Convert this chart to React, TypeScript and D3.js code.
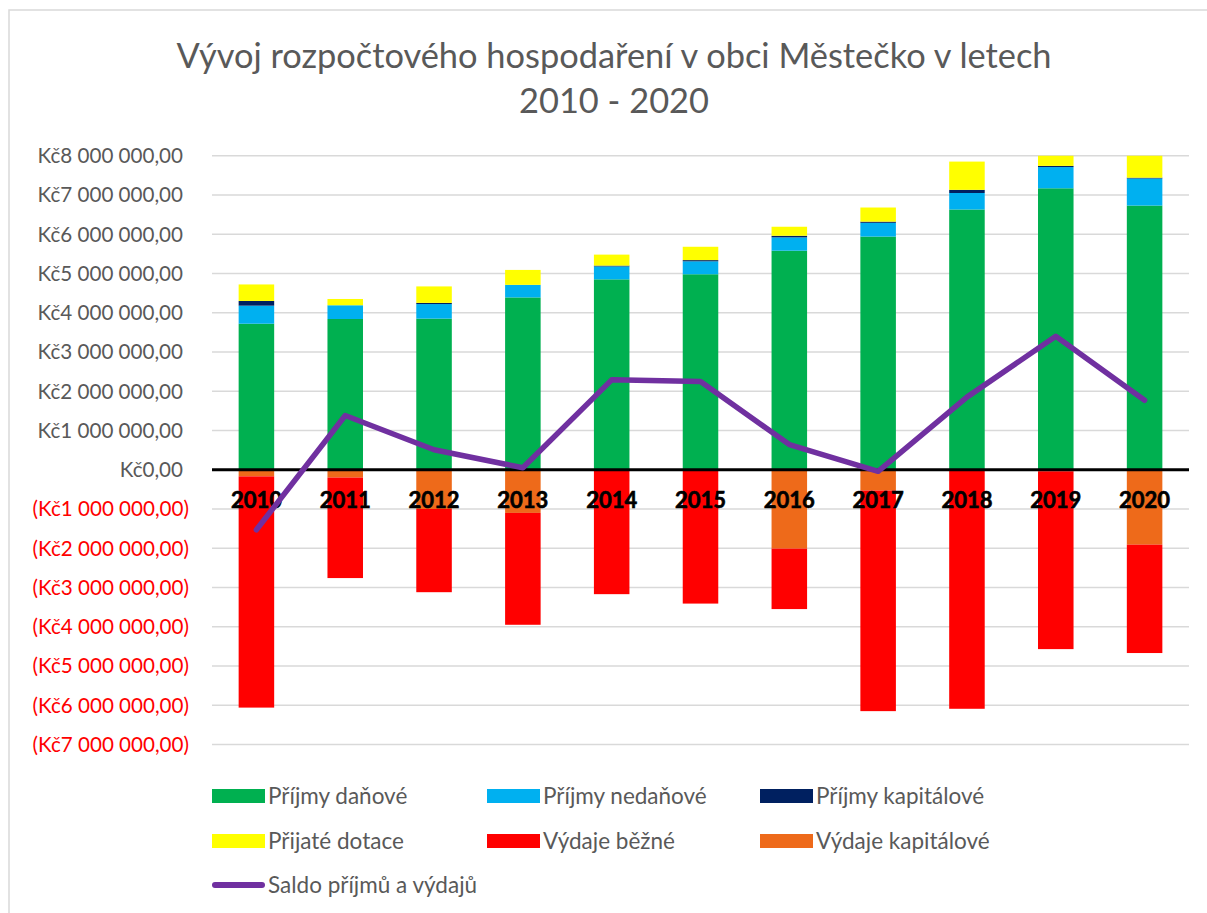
import React from 'react'
import * as d3 from 'd3'

const years = ['2010', '2011', '2012', '2013', '2014', '2015', '2016', '2017', '2018', '2019', '2020']
// příjmy (Kč)
const prijmyDanove = [3720000, 3840000, 3850000, 4390000, 4850000, 4980000, 5580000, 5940000, 6630000, 7170000, 6730000]
const prijmyNedanove = [460000, 350000, 370000, 320000, 330000, 330000, 340000, 350000, 420000, 540000, 690000]
const prijmyKapitalove = [120000, 0, 30000, 0, 20000, 30000, 40000, 30000, 80000, 30000, 20000]
const prijateDotace = [420000, 160000, 420000, 380000, 280000, 340000, 230000, 360000, 720000, 450000, 600000]
// výdaje (Kč, záporně)
const vydajeKapitalove = [-170000, -200000, -1000000, -1100000, 0, 0, -2010000, -530000, 0, -40000, -1910000]
const vydajeBezne = [-5890000, -2560000, -2120000, -2850000, -3170000, -3410000, -1540000, -5620000, -6090000, -4530000, -2760000]
const saldo = [-1530000, 1380000, 510000, 50000, 2290000, 2250000, 640000, -40000, 1850000, 3400000, 1770000]

const yTicks = [8, 7, 6, 5, 4, 3, 2, 1, 0, -1, -2, -3, -4, -5, -6, -7].map(d => d * 1000000)

const posSeries = [
    { name: 'Příjmy daňové', values: prijmyDanove, color: '#00B050' },
    { name: 'Příjmy nedaňové', values: prijmyNedanove, color: '#00B0F0' },
    { name: 'Příjmy kapitálové', values: prijmyKapitalove, color: '#002060' },
    { name: 'Přijaté dotace', values: prijateDotace, color: '#FFFF00' },
]
const negSeries = [
    { name: 'Výdaje kapitálové', values: vydajeKapitalove, color: '#EE6A1A' },
    { name: 'Výdaje běžné', values: vydajeBezne, color: '#FF0000' },
]

const legendItems = [
    { name: 'Příjmy daňové', color: '#00B050' },
    { name: 'Příjmy nedaňové', color: '#00B0F0' },
    { name: 'Příjmy kapitálové', color: '#002060' },
    { name: 'Přijaté dotace', color: '#FFFF00' },
    { name: 'Výdaje běžné', color: '#FF0000' },
    { name: 'Výdaje kapitálové', color: '#EE6A1A' },
]

const WIDTH = 1207
const HEIGHT = 913
const plot = { left: 212, right: 1189, top: 155.7, bottom: 744.5 }
const FONT = 'Lato, "Noto Sans", sans-serif'
const GRAY = '#595959'

const fmt = (v) => {
    const s = d3.format(',')(Math.abs(v)).replace(/,/g, ' ')
    return 'Kč' + s + ',00'
}

const App = () => {
    const xScale = d3
        .scaleBand()
        .domain(years)
        .range([plot.left, plot.right])
        .paddingInner(0.6)
        .paddingOuter(0.3)
    const bw = xScale.bandwidth()

    const yScale = d3
        .scaleLinear()
        .domain([-7000000, 8000000])
        .range([plot.bottom, plot.top])

    const cx = (y) => xScale(y) + bw / 2

    // skládané obdélníky
    const rects = []
    years.forEach((yr, i) => {
        let acc = 0
        posSeries.forEach(s => {
            const v = s.values[i]
            if (v > 0) {
                rects.push({ key: s.name + yr, x: xScale(yr), y0: acc, y1: acc + v, color: s.color })
                acc += v
            }
        })
        acc = 0
        negSeries.forEach(s => {
            const v = s.values[i]
            if (v < 0) {
                rects.push({ key: s.name + yr, x: xScale(yr), y0: acc + v, y1: acc, color: s.color })
                acc += v
            }
        })
    })

    const line = d3
        .line()
        .x((d, i) => cx(years[i]))
        .y(d => yScale(d))

    const legendCols = [212, 487, 760]
    const legendRows = [796, 841, 885]

    return (
        <svg width={WIDTH} height={HEIGHT} style={{ position: 'absolute', left: 0, top: 0, background: '#fff' }}>
            <defs>
                <clipPath id="plot-clip">
                    <rect x={plot.left} y={plot.top} width={plot.right - plot.left} height={plot.bottom - plot.top} />
                </clipPath>
            </defs>
            <rect x={9} y={10} width={1210} height={920} fill="#fff" stroke="#d9d9d9" strokeWidth={1.5} />

            {/* titulek */}
            <text x={614} y={68} textAnchor="middle" fontFamily={FONT} fontSize={34.4} fill={GRAY}>
                Vývoj rozpočtového hospodaření v obci Městečko v letech
            </text>
            <text x={614} y={113} textAnchor="middle" fontFamily={FONT} fontSize={34.4} fill={GRAY}>
                2010 - 2020
            </text>

            {/* mřížka + osa y */}
            <g>
                {yTicks.map(t => {
                    const y = yScale(t)
                    return (
                        <g key={t}>
                            {t !== 0 && <line x1={plot.left} x2={plot.right} y1={y} y2={y} stroke="#d9d9d9" strokeWidth={1.5} />}
                            <text
                                x={t < 0 ? 189 : 183}
                                y={y}
                                dy="0.36em"
                                textAnchor="end"
                                fontFamily={FONT}
                                fontSize={20.6}
                                fill={t < 0 ? '#FF0000' : GRAY}
                            >
                                {t < 0 ? '(' + fmt(t) + ')' : fmt(t)}
                            </text>
                        </g>
                    )
                })}
            </g>

            {/* sloupce */}
            <g clipPath="url(#plot-clip)">
                {rects.map(r => (
                    <rect
                        key={r.key}
                        x={r.x}
                        y={yScale(r.y1)}
                        width={bw}
                        height={yScale(r.y0) - yScale(r.y1)}
                        fill={r.color}
                    />
                ))}
            </g>

            {/* nulová osa */}
            <line x1={plot.left} x2={plot.right} y1={yScale(0)} y2={yScale(0)} stroke="#000" strokeWidth={3} />

            {/* popisky let */}
            {years.map(yr => (
                <text
                    key={yr}
                    x={cx(yr)}
                    y={508}
                    textAnchor="middle"
                    fontFamily={FONT}
                    fontWeight={700}
                    fontSize={22}
                    fill="#000"
                    stroke="#000"
                    strokeWidth={0.6}
                >
                    {yr}
                </text>
            ))}

            {/* saldo */}
            <path d={line(saldo)} fill="none" stroke="#7030A0" strokeWidth={5.5} strokeLinecap="round" strokeLinejoin="round" />

            {/* legenda */}
            {legendItems.map((item, i) => {
                const x = legendCols[i % 3]
                const y = legendRows[Math.floor(i / 3)]
                return (
                    <g key={item.name}>
                        <rect x={x} y={y - 7} width={53} height={14} fill={item.color} />
                        <text x={x + 56} y={y} dy="0.35em" fontFamily={FONT} fontSize={22.5} fill={GRAY}>
                            {item.name}
                        </text>
                    </g>
                )
            })}
            <line x1={215} x2={262} y1={legendRows[2]} y2={legendRows[2]} stroke="#7030A0" strokeWidth={6} strokeLinecap="round" />
            <text x={268} y={legendRows[2]} dy="0.35em" fontFamily={FONT} fontSize={22.5} fill={GRAY}>
                Saldo příjmů a výdajů
            </text>
        </svg>
    )
}

export default App
